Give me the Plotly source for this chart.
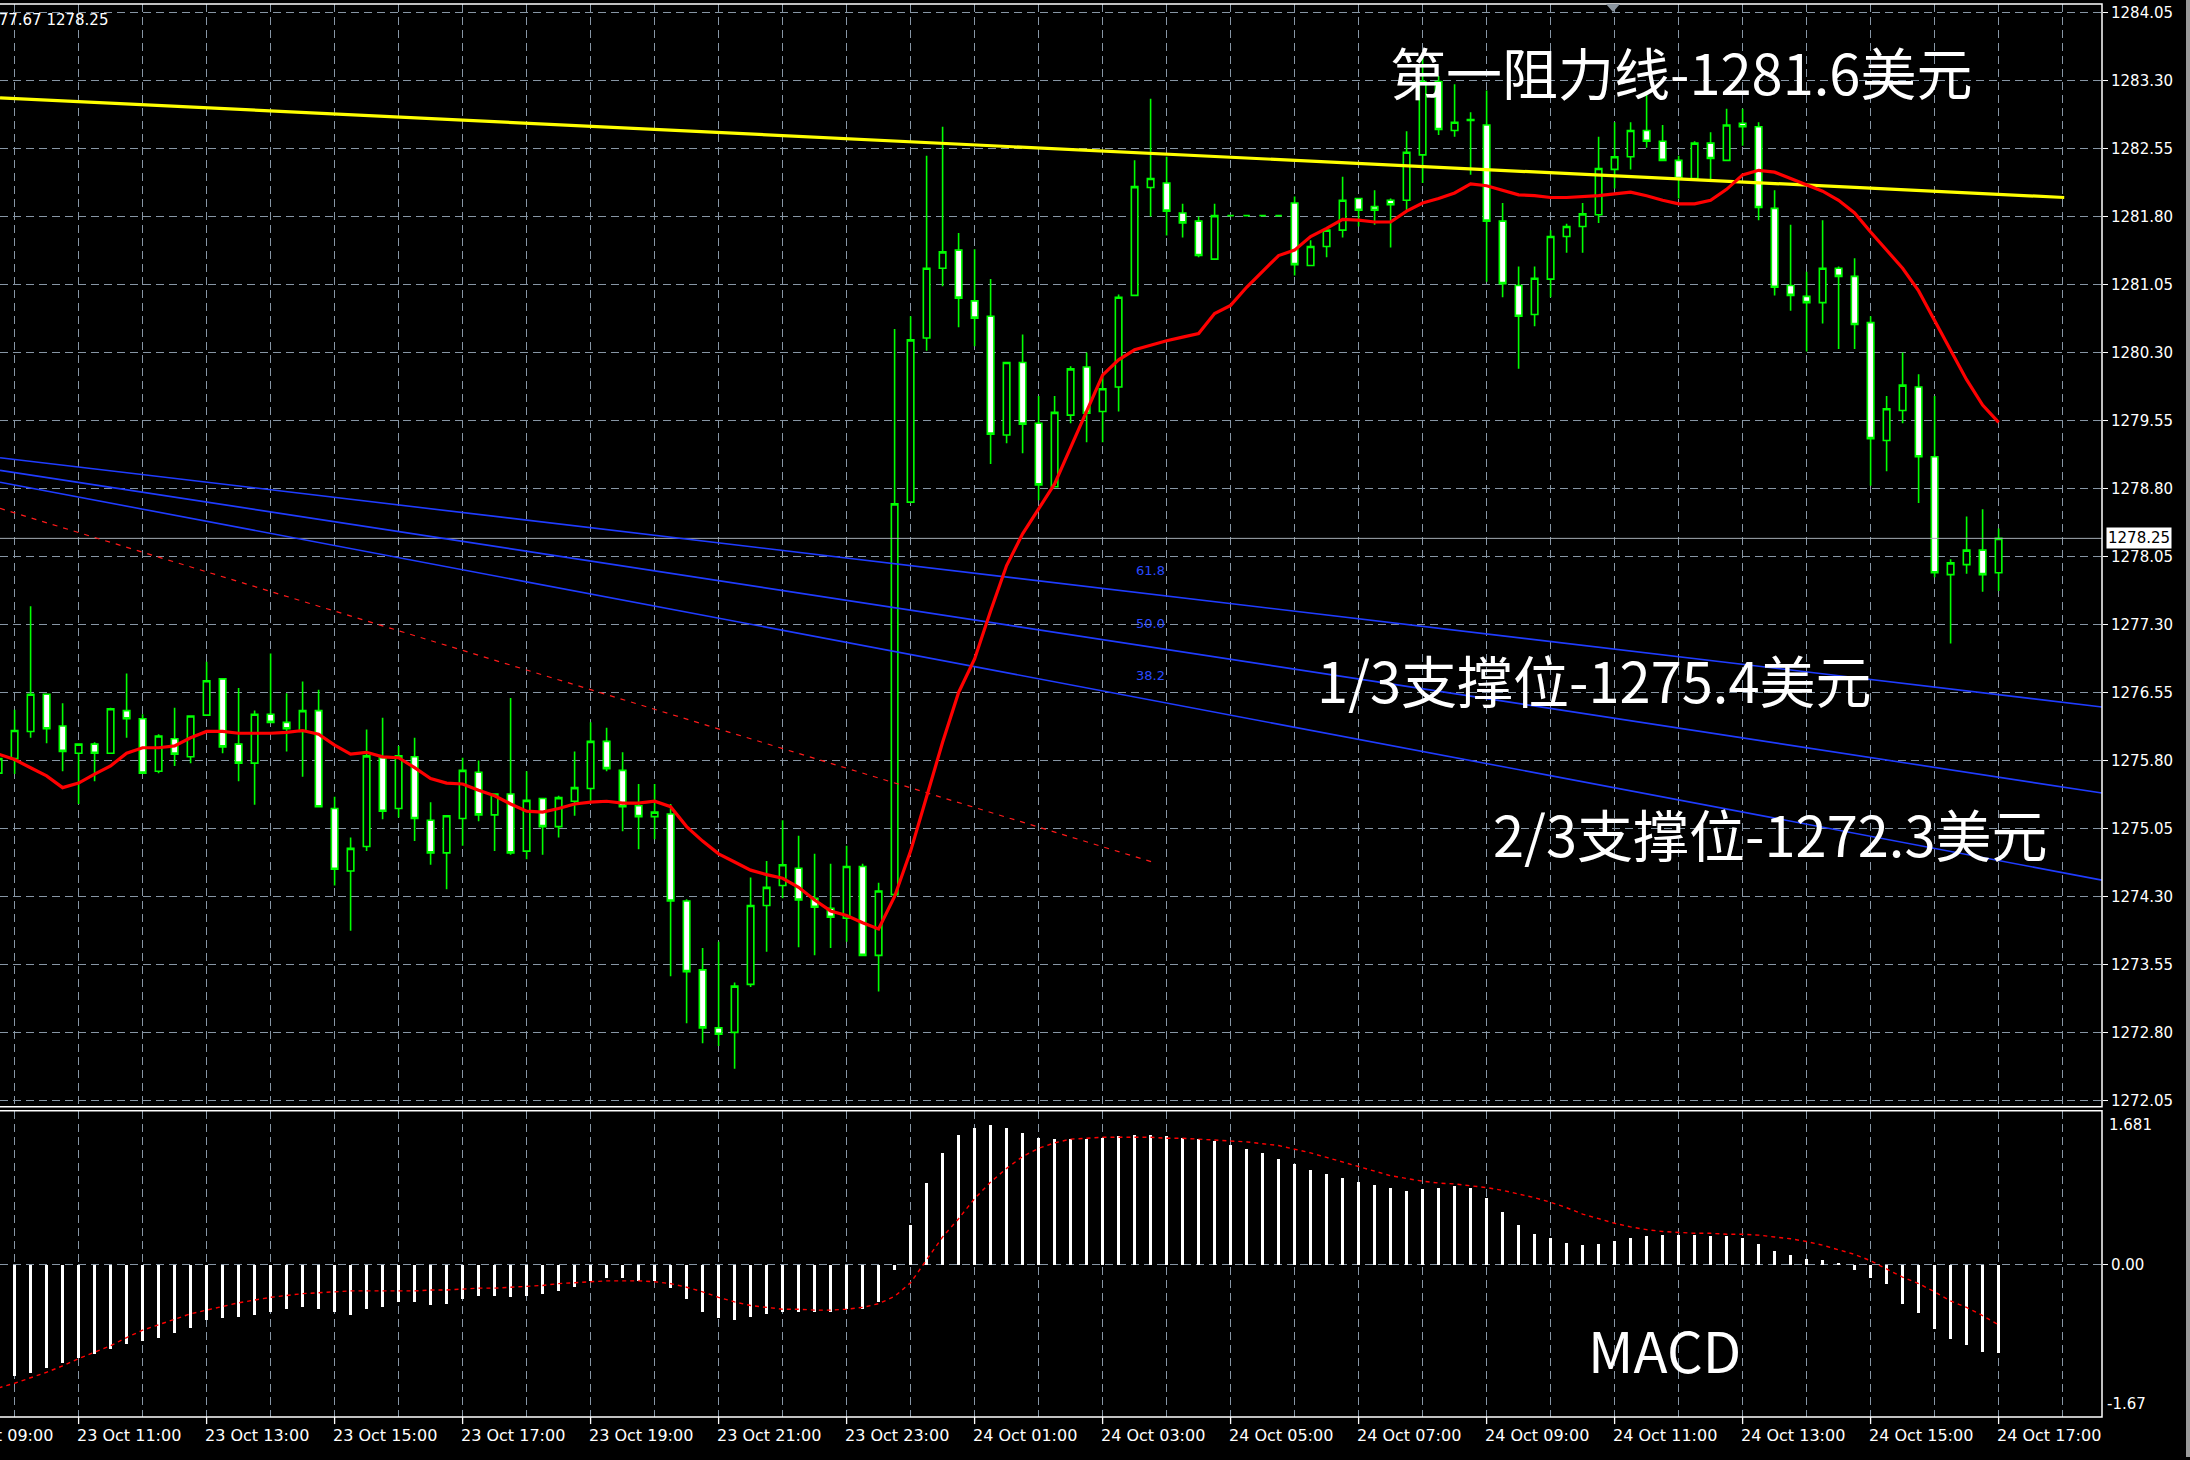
import plotly.graph_objects as go

# XAUUSD M15 bars, 23 Oct 09:45 -> 24 Oct 17:00 (bar index 0..125)
open_ = [1275.66, 1275.82, 1276.12, 1276.53, 1276.18, 1275.88, 1275.98, 1275.88, 1276.35, 1276.26,
         1275.68, 1276.04, 1275.84, 1276.30, 1276.70, 1275.98, 1275.77, 1276.31, 1276.22, 1276.12,
         1276.35, 1275.27, 1274.58, 1274.85, 1275.83, 1275.27, 1275.84, 1275.14, 1274.78, 1275.16,
         1275.67, 1275.20, 1275.43, 1274.80, 1275.38, 1275.07, 1275.35, 1275.49, 1276.01, 1275.69,
         1275.30, 1275.18, 1275.21, 1274.25, 1273.49, 1272.85, 1272.80, 1273.33, 1274.20, 1274.42,
         1274.61, 1274.28, 1274.17, 1274.06, 1274.63, 1273.65, 1274.32, 1278.65, 1280.46, 1281.23,
         1281.43, 1280.87, 1280.70, 1279.39, 1280.19, 1279.52, 1278.82, 1279.61, 1280.14, 1279.65,
         1279.92, 1280.93, 1282.12, 1282.17, 1281.84, 1281.75, 1281.33, 1281.81, 1281.81, 1281.81,
         1281.81, 1281.95, 1281.26, 1281.47, 1281.65, 1282.00, 1281.91, 1281.98, 1281.98, 1282.48,
         1283.29, 1282.75, 1282.86, 1282.81, 1281.75, 1281.04, 1280.72, 1281.11, 1281.58, 1281.69,
         1281.82, 1282.32, 1282.46, 1282.75, 1282.63, 1282.42, 1282.22, 1282.61, 1282.42, 1282.83,
         1282.79, 1281.89, 1281.04, 1280.92, 1280.85, 1281.23, 1281.14, 1280.63, 1279.33, 1279.66,
         1279.92, 1279.15, 1277.85, 1277.96, 1278.12, 1277.87]
high = [1276.07, 1276.36, 1277.50, 1276.53, 1276.43, 1275.99, 1276.00, 1276.38, 1276.76, 1276.31,
        1276.09, 1276.38, 1276.29, 1276.89, 1276.71, 1276.60, 1276.35, 1276.98, 1276.54, 1276.67,
        1276.58, 1275.40, 1274.95, 1276.14, 1276.27, 1275.96, 1276.05, 1275.34, 1275.19, 1275.83,
        1275.80, 1275.43, 1276.49, 1275.68, 1275.38, 1275.41, 1275.90, 1276.22, 1276.16, 1275.89,
        1275.54, 1275.54, 1275.32, 1274.27, 1273.73, 1273.80, 1273.35, 1274.51, 1274.69, 1275.14,
        1274.97, 1274.77, 1274.66, 1274.86, 1274.66, 1274.45, 1280.56, 1280.70, 1282.47, 1282.79,
        1281.62, 1281.44, 1281.11, 1280.19, 1280.50, 1279.82, 1279.82, 1280.15, 1280.30, 1280.07,
        1280.94, 1282.42, 1283.10, 1282.46, 1281.94, 1281.80, 1281.94, 1281.81, 1281.81, 1281.81,
        1281.81, 1282.02, 1281.54, 1281.63, 1282.24, 1282.00, 1282.09, 1282.00, 1282.74, 1283.55,
        1283.35, 1283.26, 1282.95, 1283.19, 1281.95, 1281.25, 1281.25, 1281.65, 1281.72, 1281.95,
        1282.68, 1282.84, 1282.84, 1283.18, 1282.81, 1282.47, 1282.63, 1282.73, 1282.99, 1282.99,
        1282.84, 1282.09, 1281.71, 1281.19, 1281.76, 1281.25, 1281.34, 1280.70, 1279.82, 1280.30,
        1280.06, 1279.82, 1278.02, 1278.49, 1278.57, 1278.36]
low = [1275.08, 1275.65, 1276.05, 1275.99, 1275.68, 1275.32, 1275.57, 1275.87, 1276.05, 1275.66,
       1275.66, 1275.74, 1275.77, 1276.30, 1275.88, 1275.57, 1275.31, 1276.21, 1275.90, 1275.62,
       1275.28, 1274.42, 1273.92, 1274.80, 1275.15, 1275.17, 1274.91, 1274.65, 1274.38, 1274.86,
       1275.13, 1274.80, 1274.76, 1274.71, 1274.76, 1274.95, 1275.19, 1275.35, 1275.68, 1275.02,
       1274.82, 1274.93, 1273.42, 1272.90, 1272.68, 1272.65, 1272.40, 1273.30, 1273.69, 1274.28,
       1273.74, 1273.65, 1273.73, 1273.80, 1273.65, 1273.25, 1274.32, 1278.65, 1280.32, 1281.03,
       1280.58, 1280.37, 1279.07, 1279.30, 1279.19, 1278.67, 1278.81, 1279.52, 1279.31, 1279.31,
       1279.65, 1280.93, 1281.80, 1281.59, 1281.57, 1281.35, 1281.33, 1281.81, 1281.81, 1281.81,
       1281.81, 1281.15, 1281.26, 1281.35, 1281.57, 1281.69, 1281.71, 1281.46, 1281.86, 1282.17,
       1282.70, 1282.68, 1282.26, 1281.08, 1280.91, 1280.12, 1280.59, 1280.91, 1281.40, 1281.40,
       1281.73, 1282.11, 1282.32, 1282.56, 1282.42, 1282.00, 1282.22, 1282.21, 1282.42, 1282.58,
       1281.76, 1280.93, 1280.76, 1280.31, 1280.62, 1280.34, 1280.34, 1278.83, 1278.99, 1279.52,
       1278.64, 1277.82, 1277.09, 1277.86, 1277.66, 1277.67]
close = [1275.82, 1276.13, 1276.53, 1276.15, 1275.90, 1275.98, 1275.88, 1276.37, 1276.26, 1275.66,
         1276.07, 1275.87, 1276.29, 1276.68, 1275.95, 1275.77, 1276.31, 1276.22, 1276.15, 1276.35,
         1275.29, 1274.60, 1274.83, 1275.85, 1275.24, 1275.85, 1275.16, 1274.78, 1275.19, 1275.69,
         1275.20, 1275.43, 1274.78, 1275.36, 1275.07, 1275.39, 1275.50, 1276.01, 1275.71, 1275.29,
         1275.18, 1275.23, 1274.25, 1273.47, 1272.85, 1272.78, 1273.31, 1274.20, 1274.40, 1274.65,
         1274.26, 1274.18, 1274.07, 1274.63, 1273.65, 1274.36, 1278.63, 1280.44, 1281.23, 1281.41,
         1280.90, 1280.68, 1279.40, 1280.19, 1279.51, 1278.84, 1279.64, 1280.12, 1279.63, 1279.90,
         1280.91, 1282.13, 1282.22, 1281.86, 1281.73, 1281.37, 1281.81, 1281.81, 1281.81, 1281.81,
         1281.81, 1281.27, 1281.47, 1281.65, 1281.98, 1281.87, 1281.87, 1281.93, 1282.51, 1283.29,
         1282.76, 1282.84, 1282.87, 1281.75, 1281.06, 1280.70, 1281.12, 1281.58, 1281.69, 1281.83,
         1282.33, 1282.46, 1282.75, 1282.63, 1282.42, 1282.22, 1282.61, 1282.44, 1282.81, 1282.79,
         1281.90, 1281.02, 1280.93, 1280.85, 1281.23, 1281.14, 1280.61, 1279.35, 1279.68, 1279.94,
         1279.15, 1277.87, 1277.98, 1278.12, 1277.85, 1278.25]

# moving average (red)
ma = [1275.87, 1275.81, 1275.72, 1275.63, 1275.50, 1275.55, 1275.65, 1275.74, 1275.88, 1275.94,
      1275.94, 1275.96, 1276.05, 1276.12, 1276.12, 1276.10, 1276.10, 1276.10, 1276.11, 1276.13,
      1276.09, 1275.97, 1275.87, 1275.89, 1275.84, 1275.83, 1275.72, 1275.60, 1275.55, 1275.54,
      1275.47, 1275.41, 1275.32, 1275.24, 1275.23, 1275.27, 1275.32, 1275.34, 1275.35, 1275.33,
      1275.33, 1275.35, 1275.29, 1275.07, 1274.91, 1274.77, 1274.68, 1274.59, 1274.54, 1274.50,
      1274.40, 1274.26, 1274.14, 1274.09, 1274.01, 1273.94, 1274.30, 1274.80, 1275.40, 1276.00,
      1276.55, 1276.92, 1277.45, 1277.95, 1278.30, 1278.58, 1278.85, 1279.25, 1279.65, 1280.05,
      1280.22, 1280.33, 1280.38, 1280.43, 1280.47, 1280.51, 1280.73, 1280.82, 1281.02, 1281.19,
      1281.37, 1281.43, 1281.58, 1281.67, 1281.77, 1281.76, 1281.74, 1281.74, 1281.86, 1281.95,
      1282.00, 1282.06, 1282.16, 1282.14, 1282.09, 1282.04, 1282.03, 1282.01, 1282.01, 1282.02,
      1282.03, 1282.05, 1282.07, 1282.03, 1281.98, 1281.94, 1281.94, 1281.98, 1282.10, 1282.26,
      1282.31, 1282.29, 1282.22, 1282.15, 1282.08, 1281.98, 1281.84, 1281.63, 1281.43, 1281.23,
      1280.98, 1280.65, 1280.33, 1280.00, 1279.72, 1279.53]

# MACD histogram and signal
macd = [-1.25, -1.22, -1.18, -1.13, -1.07, -1.02, -0.98, -0.92, -0.87, -0.83,
        -0.80, -0.75, -0.69, -0.61, -0.58, -0.57, -0.55, -0.52, -0.49, -0.46,
        -0.49, -0.52, -0.55, -0.49, -0.46, -0.41, -0.41, -0.44, -0.43, -0.37,
        -0.34, -0.34, -0.35, -0.34, -0.32, -0.29, -0.24, -0.18, -0.15, -0.15,
        -0.18, -0.18, -0.26, -0.38, -0.52, -0.58, -0.60, -0.57, -0.54, -0.52,
        -0.52, -0.52, -0.52, -0.49, -0.49, -0.41, -0.06, 0.43, 0.89, 1.22,
        1.42, 1.50, 1.53, 1.50, 1.44, 1.39, 1.38, 1.38, 1.38, 1.39,
        1.41, 1.42, 1.42, 1.41, 1.39, 1.38, 1.35, 1.31, 1.27, 1.22,
        1.16, 1.10, 1.04, 0.99, 0.95, 0.90, 0.87, 0.84, 0.81, 0.83,
        0.84, 0.86, 0.84, 0.73, 0.58, 0.43, 0.34, 0.29, 0.24, 0.21,
        0.23, 0.26, 0.29, 0.31, 0.32, 0.32, 0.32, 0.31, 0.31, 0.29,
        0.23, 0.15, 0.11, 0.06, 0.05, 0.02, -0.06, -0.15, -0.21, -0.43,
        -0.53, -0.70, -0.81, -0.88, -0.95, -0.97]
signal = [-1.35, -1.30, -1.24, -1.18, -1.11, -1.03, -0.96, -0.89, -0.80, -0.72,
          -0.66, -0.60, -0.54, -0.50, -0.46, -0.42, -0.39, -0.36, -0.34, -0.32,
          -0.31, -0.30, -0.29, -0.29, -0.29, -0.29, -0.29, -0.28, -0.28, -0.27,
          -0.26, -0.26, -0.25, -0.24, -0.23, -0.21, -0.20, -0.19, -0.18, -0.18,
          -0.18, -0.19, -0.21, -0.25, -0.30, -0.36, -0.41, -0.45, -0.47, -0.49,
          -0.49, -0.50, -0.50, -0.49, -0.47, -0.43, -0.35, -0.20, 0.05, 0.30,
          0.50, 0.72, 0.90, 1.05, 1.18, 1.27, 1.33, 1.37, 1.38, 1.39,
          1.39, 1.39, 1.39, 1.38, 1.38, 1.37, 1.36, 1.35, 1.34, 1.32,
          1.30, 1.26, 1.22, 1.17, 1.12, 1.07, 1.02, 0.97, 0.94, 0.91,
          0.89, 0.88, 0.86, 0.84, 0.81, 0.77, 0.73, 0.68, 0.62, 0.55,
          0.50, 0.45, 0.41, 0.38, 0.36, 0.35, 0.34, 0.34, 0.33, 0.33,
          0.32, 0.30, 0.28, 0.25, 0.21, 0.16, 0.11, 0.04, -0.05, -0.14,
          -0.21, -0.30, -0.40, -0.47, -0.56, -0.66]

bars = list(range(len(close)))

# drawn objects: resistance (yellow), fan lines (blue), old trend (red dashed)
resist_x = [0.09, 129.1]
resist_y = [1283.11, 1282.01]
fan_x = [0.09, 131.46]
fan_levels = ["61.8", "50.0", "38.2"]
fan_y = [[1279.14, 1276.39], [1279.00, 1275.44], [1278.87, 1274.48]]
fan_label_bar = 72
trend_x = [0.09, 72.1]
trend_y = [1278.58, 1274.68]

# axes
price_ticks = [1272.05, 1272.80, 1273.55, 1274.30, 1275.05, 1275.80, 1276.55, 1277.30, 1278.05,
               1278.80, 1279.55, 1280.30, 1281.05, 1281.80, 1282.55, 1283.30, 1284.05]
hour_bars = list(range(1, 130, 4))
time_bars = [-3, 5, 13, 21, 29, 37, 45, 53, 61, 69, 77, 85, 93, 101, 109, 117, 125]
time_labels = ["23 Oct 09:00", "23 Oct 11:00", "23 Oct 13:00", "23 Oct 15:00", "23 Oct 17:00",
               "23 Oct 19:00", "23 Oct 21:00", "23 Oct 23:00", "24 Oct 01:00", "24 Oct 03:00",
               "24 Oct 05:00", "24 Oct 07:00", "24 Oct 09:00", "24 Oct 11:00", "24 Oct 13:00",
               "24 Oct 15:00", "24 Oct 17:00"]
macd_top, macd_bottom = 1.681, -1.67

# canvas geometry
W, H = 2190, 1460
X_RANGE = [0.0875, 131.4625]
PLOT_R = 2102 / W
MAIN_DOM = [1 - 1109 / H, 1 - 4 / H]
MACD_DOM = [1 - 1420 / H, 1 - 1113 / H]

GRID = "#8796a5"
GREEN = "#00ff00"
AX_FONT = dict(family="DejaVu Sans, Liberation Sans, sans-serif", size=15, color="#ffffff")
TIME_FONT = dict(family="DejaVu Sans, Liberation Sans, sans-serif", size=16, color="#ffffff")
BIG_FONT = dict(family="Noto Sans CJK SC, Noto Sans, sans-serif", size=56, color="#ffffff")


def bar_to_paper(b):
    return (b - X_RANGE[0]) / (X_RANGE[1] - X_RANGE[0]) * PLOT_R


fig = go.Figure()

fig.add_trace(go.Candlestick(
    x=bars, open=open_, high=high, low=low, close=close,
    increasing=dict(line=dict(color=GREEN, width=1.6), fillcolor="#000000"),
    decreasing=dict(line=dict(color=GREEN, width=1.6), fillcolor="#ffffff"),
    whiskerwidth=0, hoverinfo="skip", showlegend=False, xaxis="x", yaxis="y"))

# current price line
fig.add_trace(go.Scatter(x=X_RANGE, y=[close[-1], close[-1]], mode="lines",
                         line=dict(color="#a4acb4", width=1), hoverinfo="skip",
                         showlegend=False, xaxis="x", yaxis="y"))

for ys in fan_y:
    fig.add_trace(go.Scatter(x=fan_x, y=ys, mode="lines", line=dict(color="#1f3cff", width=1.6),
                             hoverinfo="skip", showlegend=False, xaxis="x", yaxis="y"))

fig.add_trace(go.Scatter(x=trend_x, y=trend_y, mode="lines",
                         line=dict(color="#ff1a1a", width=1.2, dash="5px,6px"),
                         hoverinfo="skip", showlegend=False, xaxis="x", yaxis="y"))

fig.add_trace(go.Scatter(x=resist_x, y=resist_y, mode="lines", line=dict(color="#ffff00", width=3.2),
                         hoverinfo="skip", showlegend=False, xaxis="x", yaxis="y"))

fig.add_trace(go.Scatter(x=bars, y=ma, mode="lines", line=dict(color="#ff0000", width=3.2),
                         hoverinfo="skip", showlegend=False, xaxis="x", yaxis="y"))

# MACD pane
fig.add_trace(go.Bar(x=bars, y=macd, width=0.12, marker=dict(color="#ffffff", line=dict(width=0)),
                     hoverinfo="skip", showlegend=False, xaxis="x2", yaxis="y2"))
fig.add_trace(go.Scatter(x=bars, y=signal, mode="lines",
                         line=dict(color="#ff0000", width=1.4, dash="4px,4px"),
                         hoverinfo="skip", showlegend=False, xaxis="x2", yaxis="y2"))

grid_x = dict(range=X_RANGE, domain=[0, PLOT_R], tickmode="array", tickvals=hour_bars,
              showticklabels=False, ticks="", showgrid=True, gridcolor=GRID, gridwidth=1.3,
              griddash="8px,5px", zeroline=False, showline=False, fixedrange=True)

fig.update_layout(
    width=W, height=H, margin=dict(l=0, r=0, t=0, b=0),
    paper_bgcolor="#000000", plot_bgcolor="#000000",
    bargap=0, boxgap=0.42,
    xaxis=dict(**grid_x, anchor="y", rangeslider=dict(visible=False)),
    xaxis2=dict(**grid_x, anchor="y2", matches="x"),
    yaxis=dict(domain=MAIN_DOM, range=[1271.98, 1284.145], side="right", anchor="x",
               tickmode="array", tickvals=price_ticks, ticktext=[f"{p:.2f}" for p in price_ticks],
               ticks="outside", ticklen=5, tickwidth=1.3, tickcolor="#ffffff", tickfont=AX_FONT,
               showgrid=True, gridcolor=GRID, gridwidth=1.3, griddash="8px,5px",
               zeroline=False, showline=False),
    yaxis2=dict(domain=MACD_DOM, range=[macd_bottom, macd_top], side="right", anchor="x2",
                tickmode="array", tickvals=[0], ticktext=["0.00"],
                ticks="outside", ticklen=5, tickwidth=1.3, tickcolor="#ffffff", tickfont=AX_FONT,
                showgrid=True, gridcolor=GRID, gridwidth=1.3, griddash="8px,5px",
                zeroline=False, showline=False),
)

shapes = []
# pane frames
for dom in (MAIN_DOM, MACD_DOM):
    shapes.append(dict(type="rect", xref="paper", yref="paper", x0=-0.01, x1=PLOT_R,
                       y0=dom[0], y1=dom[1], line=dict(color="#ffffff", width=1.5), layer="above"))
# time tick marks
for b in time_bars:
    xp = bar_to_paper(b)
    shapes.append(dict(type="line", xref="paper", yref="paper", x0=xp, x1=xp,
                       y0=MACD_DOM[0], y1=MACD_DOM[0] - 7 / H, line=dict(color="#ffffff", width=1.3)))
# chart shift marker
shapes.append(dict(type="path", xref="paper", yref="paper",
                   path=f"M {1606 / W},{1 - 4 / H} L {1620 / W},{1 - 4 / H} L {1613 / W},{1 - 12 / H} Z",
                   fillcolor="#8a949e", line=dict(width=0)))
# window edge
shapes.append(dict(type="rect", xref="paper", yref="paper", x0=2186 / W, x1=1, y0=0, y1=1,
                   fillcolor="#9a9a9a", line=dict(width=0)))
fig.update_layout(shapes=shapes)

ann = []
for b, t in zip(time_bars, time_labels):
    ann.append(dict(xref="paper", yref="paper", x=bar_to_paper(b), y=1 - 1438 / H, text=t,
                    xanchor="left", yanchor="middle", xshift=-4, showarrow=False, font=TIME_FONT))

# OHLC header of the last bar
ann.append(dict(xref="paper", yref="paper", x=110 / W, y=1 - 20 / H,
                text=f"{open_[-1]:.2f} {high[-1]:.2f} {low[-1]:.2f} {close[-1]:.2f}",
                xanchor="right", yanchor="middle", showarrow=False, font=AX_FONT))

# last price tag
ann.append(dict(xref="paper", yref="y", x=2106 / W, y=close[-1], text=f"{close[-1]:.2f}",
                xanchor="left", yanchor="middle", showarrow=False, bgcolor="#ffffff",
                borderpad=1, font=dict(family=AX_FONT["family"], size=15, color="#000000")))

# MACD scale extremes
ann.append(dict(xref="paper", yref="paper", x=2107 / W, y=1 - 1127 / H, text=f"{macd_top:.3f}",
                xanchor="left", yanchor="middle", showarrow=False, font=AX_FONT))
ann.append(dict(xref="paper", yref="paper", x=2105 / W, y=1 - 1407 / H, text=f"{macd_bottom:.2f}",
                xanchor="left", yanchor="middle", showarrow=False, font=AX_FONT))

# fan level labels
for lvl, ys in zip(fan_levels, fan_y):
    yv = ys[0] + (ys[1] - ys[0]) * (fan_label_bar - fan_x[0]) / (fan_x[1] - fan_x[0])
    ann.append(dict(xref="x", yref="y", x=fan_label_bar, y=yv, text=lvl, xanchor="center",
                    yanchor="middle", yshift=24, showarrow=False,
                    font=dict(family=AX_FONT["family"], size=13, color="#2a4bff")))

# commentary text
ann.append(dict(xref="paper", yref="paper", x=1681 / W, y=1 - 71 / H, text="第一阻力线-1281.6美元",
                xanchor="center", yanchor="middle", showarrow=False, font=BIG_FONT))
ann.append(dict(xref="paper", yref="paper", x=1594 / W, y=1 - 680 / H, text="1/3支撑位-1275.4美元",
                xanchor="center", yanchor="middle", showarrow=False, font=BIG_FONT))
ann.append(dict(xref="paper", yref="paper", x=1770 / W, y=1 - 834 / H, text="2/3支撑位-1272.3美元",
                xanchor="center", yanchor="middle", showarrow=False, font=BIG_FONT))
ann.append(dict(xref="paper", yref="paper", x=1664 / W, y=1 - 1351 / H, text="MACD",
                xanchor="center", yanchor="middle", showarrow=False, font=BIG_FONT))

fig.update_layout(annotations=ann)

fig.write_html("out.html")
